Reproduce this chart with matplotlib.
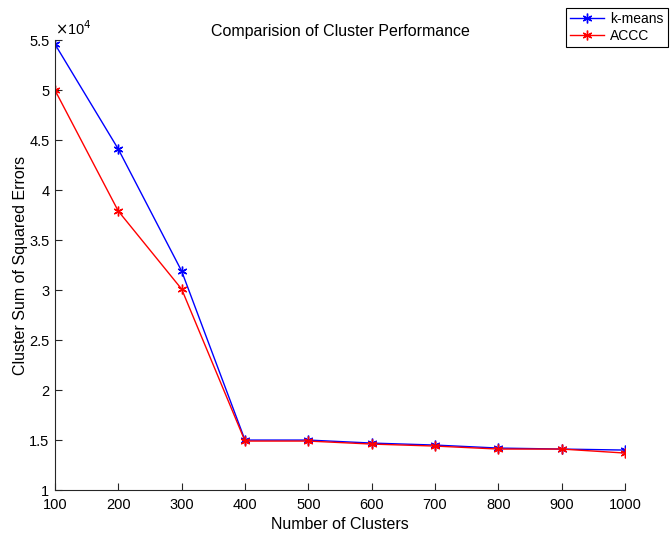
import matplotlib
matplotlib.use('Agg')
import matplotlib.pyplot as plt
from matplotlib.ticker import FuncFormatter

plt.rcParams['font.family'] = ['Liberation Sans', 'DejaVu Sans']

clusters = [100, 200, 300, 400, 500, 600, 700, 800, 900, 1000]
kmeans_sse = [54600, 44100, 31900, 15000, 15000, 14700, 14500, 14200, 14100, 14000]
accc_sse = [50000, 37900, 30100, 14900, 14900, 14600, 14400, 14100, 14100, 13700]

fig = plt.figure(figsize=(6.7, 5.35), dpi=100)
ax = fig.add_axes([0.082, 0.084, 0.851, 0.841])

ax.plot(clusters, kmeans_sse, color='blue', lw=1, marker=(6, 2, 0), ms=7, mew=1, label='k-means')
ax.plot(clusters, accc_sse, color='red', lw=1, marker=(6, 2, 0), ms=7, mew=1, label='ACCC')

ax.set_xlim(100, 1000)
ax.set_ylim(10000, 55000)
ax.set_xticks(clusters)
ax.set_yticks([10000 + 5000 * i for i in range(10)])
ax.yaxis.set_major_formatter(FuncFormatter(lambda v, p: '%g' % (v / 1e4)))

for s in ['top', 'right']:
    ax.spines[s].set_visible(False)
for s in ['left', 'bottom']:
    ax.spines[s].set_color('#262626')
    ax.spines[s].set_linewidth(0.8)
ax.tick_params(direction='in', length=5, width=0.8, color='#262626', labelsize=10.5, pad=4)
ax.tick_params(axis='x', pad=6)

ax.text(0.0, 1.005, r'$\times$10$^4$', transform=ax.transAxes, fontsize=10.5, va='bottom', ha='left')
ax.set_xlabel('Number of Clusters', fontsize=11.5, labelpad=3)
ax.set_ylabel('Cluster Sum of Squared Errors', fontsize=11.5, labelpad=1)
ax.set_title('Comparision of Cluster Performance', fontsize=11.5, pad=3)

leg = fig.legend(loc='upper right', bbox_to_anchor=(0.997, 0.985), borderaxespad=0, fontsize=10,
                 fancybox=False, edgecolor='black', framealpha=1,
                 handlelength=2.4, borderpad=0.3, labelspacing=0.2, handletextpad=0.5)
leg.get_frame().set_linewidth(0.8)

fig.savefig('out.png', dpi=100)
